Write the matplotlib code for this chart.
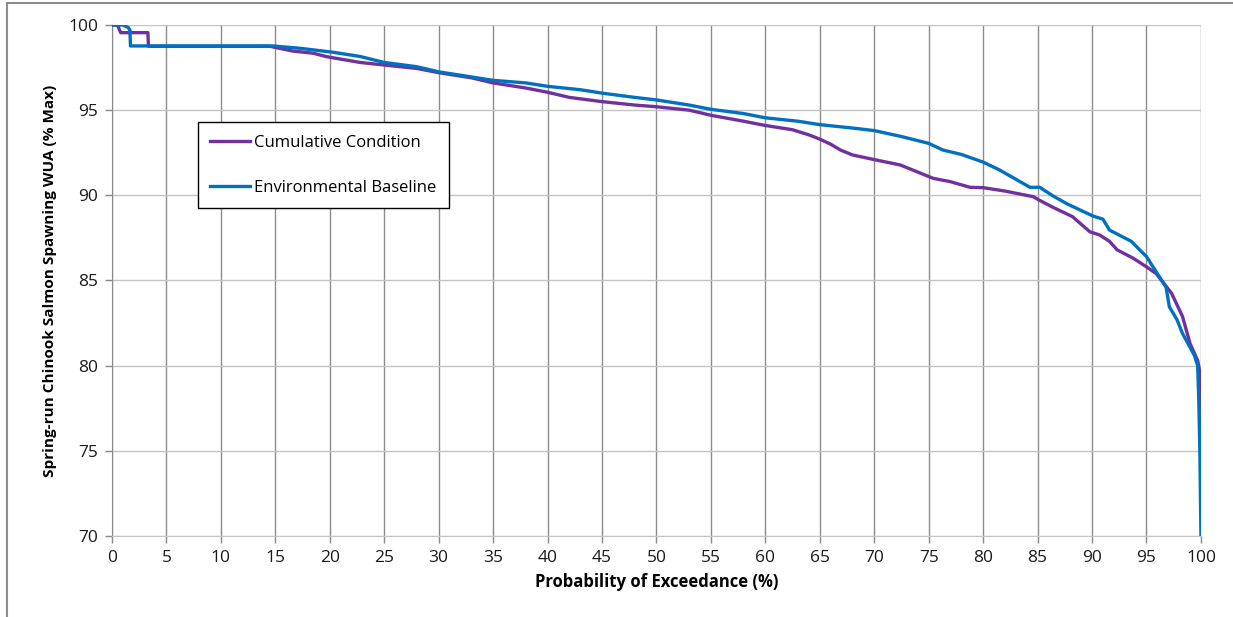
import matplotlib.pyplot as plt
from matplotlib.lines import Line2D

# exceedance curves, % of max WUA
cum_x = [0, 0.5, 0.8, 3.3, 3.35, 14.5, 15.4, 16.6, 18.5, 19.7, 22.8, 25, 28, 30, 33,
         35, 38, 40, 42, 45, 48, 50, 53, 55, 58, 60, 62.5, 64, 65, 66, 66.9, 68, 70.2,
         72.4, 73.9, 75.4, 77, 78.8, 80, 82, 84.6, 85.2, 86.4, 88.2, 89.8, 90.7, 91.6,
         92.3, 93.8, 95, 95.9, 97.3, 98.3, 99, 99.7, 99.9, 100]
cum_y = [100, 100, 99.55, 99.55, 98.75, 98.75, 98.63, 98.47, 98.34, 98.14, 97.8, 97.65,
         97.45, 97.2, 96.9, 96.6, 96.3, 96.05, 95.75, 95.5, 95.3, 95.2, 95.0, 94.7, 94.35,
         94.1, 93.85, 93.55, 93.3, 93.0, 92.66, 92.37, 92.07, 91.78, 91.39, 91.0, 90.8,
         90.47, 90.45, 90.25, 89.92, 89.7, 89.3, 88.75, 87.86, 87.67, 87.3, 86.8, 86.3,
         85.8, 85.4, 84.25, 82.9, 81.3, 80.3, 79.6, 76.2]

base_x = [0, 1.0, 1.5, 1.65, 1.7, 14.8, 17.3, 20.3, 22.8, 25, 28, 30, 33, 35, 38, 40,
          43, 45, 48, 50, 53, 55, 58, 60, 63, 65, 68, 70, 72.5, 75, 76.3, 78, 80, 81.5,
          84.3, 85.2, 86.4, 87.7, 90.1, 91.0, 91.6, 93.6, 95, 96.8, 97.1, 97.8, 98.3,
          99.4, 99.7, 99.8, 99.9, 100]
base_y = [100, 100, 99.85, 99.7, 98.77, 98.77, 98.63, 98.4, 98.15, 97.8, 97.55, 97.25,
          96.95, 96.75, 96.6, 96.4, 96.2, 96.0, 95.75, 95.6, 95.3, 95.05, 94.8, 94.55,
          94.35, 94.15, 93.95, 93.8, 93.45, 93.05, 92.66, 92.4, 91.95, 91.49, 90.47, 90.47,
          89.97, 89.5, 88.78, 88.6, 87.96, 87.3, 86.4, 84.6, 83.45, 82.7, 81.9, 80.6, 80.0,
          78.0, 75.0, 70.0]

x_ticks = list(range(0, 101, 5))
y_ticks = list(range(70, 101, 5))

plt.rcParams['font.family'] = ['Open Sans', 'DejaVu Sans']

fig = plt.figure(figsize=(12.33, 6.17), dpi=100)
ax = fig.add_axes([0.0908, 0.1313, 0.8832, 0.8282])

ax.plot(cum_x, cum_y, color='#7030A0', lw=2.4, label='Cumulative Condition', zorder=3)
ax.plot(base_x, base_y, color='#0070C0', lw=2.4, label='Environmental Baseline', zorder=4)

ax.set_xlim(0, 100)
ax.set_ylim(70, 100)
ax.set_xticks(x_ticks)
ax.set_yticks(y_ticks)
ax.tick_params(axis='both', labelsize=12.5, colors='#888888', labelcolor='#1a1a1a',
               length=5, width=1)
ax.tick_params(axis='x', pad=5)
ax.tick_params(axis='y', pad=5)

# vertical grid darker than horizontal
for xv in x_ticks:
    ax.axvline(xv, color='#8c8c8c', lw=1, zorder=1)
for yv in y_ticks:
    ax.axhline(yv, color='#c4c4c4', lw=1, zorder=1)

for side in ['top', 'right']:
    ax.spines[side].set_visible(False)
ax.spines['left'].set_color('#8c8c8c')
ax.spines['bottom'].set_color('#c4c4c4')

ax.set_xlabel('Probability of Exceedance (%)', fontsize=12, fontweight='bold', labelpad=5)
ax.set_ylabel('Spring-run Chinook Salmon Spawning WUA (% Max)', fontsize=11,
              fontweight='bold', labelpad=8)

leg = ax.legend(loc='upper left', bbox_to_anchor=(0.079, 0.81), borderaxespad=0,
                fancybox=False, edgecolor='black', framealpha=1, fontsize=12,
                labelspacing=1.75, handlelength=2.4, handletextpad=0.2,
                borderpad=0.75)
leg.get_frame().set_linewidth(1)

# chart frame edges
fig.add_artist(Line2D([7 / 1233, 7 / 1233], [0, 1 - 3 / 617], transform=fig.transFigure,
                      color='#8c8c8c', lw=1.5))
fig.add_artist(Line2D([7 / 1233, 1], [1 - 3 / 617, 1 - 3 / 617], transform=fig.transFigure,
                      color='#8c8c8c', lw=1.5))

fig.savefig('out.png', dpi=100)
